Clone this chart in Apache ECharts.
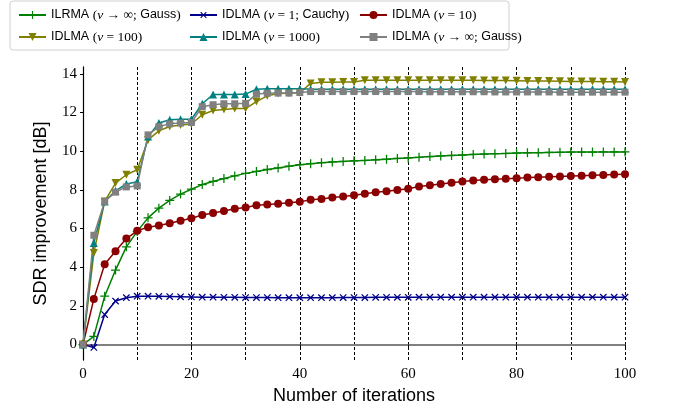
<!DOCTYPE html>
<html><head><meta charset="utf-8">
<script src="https://cdn.jsdelivr.net/npm/echarts@6/dist/echarts.min.js"></script>
<style>html,body{margin:0;padding:0;background:#fff}#c{width:685px;height:410px}</style>
</head><body><div id="c"></div>
<script>
const iterations = [0,2,4,6,8,10,12,14,16,18,20,22,24,26,28,30,32,34,36,38,40,42,44,46,48,50,52,54,56,58,60,62,64,66,68,70,72,74,76,78,80,82,84,86,88,90,92,94,96,98,100];
const ilrma = [0,0.42,2.5,3.85,5.05,5.85,6.55,7.05,7.45,7.78,8.03,8.27,8.43,8.58,8.72,8.85,8.95,9.05,9.13,9.22,9.3,9.35,9.4,9.44,9.47,9.5,9.52,9.55,9.58,9.62,9.65,9.68,9.72,9.75,9.78,9.8,9.83,9.85,9.87,9.88,9.9,9.91,9.92,9.93,9.94,9.95,9.95,9.95,9.96,9.96,9.96];
const cauchy = [0,-0.15,1.55,2.25,2.42,2.5,2.5,2.49,2.48,2.47,2.46,2.45,2.45,2.44,2.44,2.43,2.43,2.43,2.42,2.42,2.42,2.42,2.42,2.42,2.43,2.43,2.43,2.44,2.44,2.44,2.44,2.45,2.45,2.45,2.45,2.45,2.45,2.45,2.45,2.45,2.45,2.45,2.45,2.45,2.45,2.45,2.45,2.45,2.45,2.45,2.45];
const nu10 = [0,2.36,4.15,4.82,5.48,5.88,6.07,6.16,6.27,6.4,6.53,6.7,6.8,6.91,7.02,7.08,7.2,7.24,7.28,7.33,7.38,7.48,7.53,7.6,7.66,7.72,7.8,7.87,7.92,7.99,8.05,8.17,8.23,8.3,8.37,8.43,8.48,8.52,8.55,8.57,8.6,8.63,8.65,8.67,8.69,8.71,8.73,8.75,8.77,8.79,8.8];
const nu100 = [0,4.73,7.4,8.35,8.78,9.04,10.58,11.05,11.27,11.35,11.4,11.88,12.1,12.15,12.2,12.2,12.56,12.86,12.98,12.99,13.02,13.5,13.56,13.56,13.57,13.58,13.66,13.66,13.66,13.66,13.66,13.66,13.66,13.66,13.66,13.66,13.66,13.65,13.65,13.65,13.64,13.63,13.62,13.62,13.61,13.6,13.6,13.6,13.59,13.59,13.58];
const nu1000 = [0,5.25,7.4,7.95,8.3,8.42,10.75,11.45,11.62,11.65,11.65,12.45,12.93,12.93,12.93,12.95,13.2,13.22,13.22,13.22,13.22,13.2,13.2,13.2,13.2,13.2,13.2,13.2,13.2,13.2,13.2,13.2,13.2,13.2,13.2,13.2,13.2,13.2,13.2,13.2,13.2,13.2,13.2,13.2,13.2,13.2,13.2,13.2,13.2,13.2,13.2];
const gauss = [0,5.65,7.4,7.88,8.15,8.2,10.84,11.27,11.41,11.45,11.48,12.3,12.4,12.45,12.45,12.47,12.95,12.99,13.0,13.0,13.03,13.08,13.08,13.08,13.08,13.08,13.08,13.08,13.08,13.08,13.08,13.08,13.07,13.07,13.07,13.07,13.07,13.07,13.06,13.06,13.06,13.06,13.06,13.06,13.05,13.05,13.05,13.05,13.05,13.05,13.05];
const xTicks = [0,20,40,60,80,100];
const yTicks = [0,2,4,6,8,10,12,14];
const names = ['ILRMA (ν → ∞; Gauss)','IDLMA (ν = 1; Cauchy)','IDLMA (ν = 10)','IDLMA (ν = 100)','IDLMA (ν = 1000)','IDLMA (ν → ∞; Gauss)'];
const richNames = {
  'ILRMA (ν → ∞; Gauss)': '{s|ILRMA }{m|(}{i|ν}{m| → ∞; }{s|Gauss}{m|)}',
  'IDLMA (ν = 1; Cauchy)': '{s|IDLMA }{m|(}{i|ν}{m| = 1; }{s|Cauchy}{m|)}',
  'IDLMA (ν = 10)': '{s|IDLMA }{m|(}{i|ν}{m| = 10)}',
  'IDLMA (ν = 100)': '{s|IDLMA }{m|(}{i|ν}{m| = 100)}',
  'IDLMA (ν = 1000)': '{s|IDLMA }{m|(}{i|ν}{m| = 1000)}',
  'IDLMA (ν → ∞; Gauss)': '{s|IDLMA }{m|(}{i|ν}{m| → ∞; }{s|Gauss}{m|)}'
};
const SANS = 'Liberation Sans';
const SERIF = 'Liberation Serif';
const plus = 'path://M4.3,0H5.7V4.3H10V5.7H5.7V10H4.3V5.7H0V4.3H4.3Z';
const pair = arr => iterations.map((x,i)=>[x,arr[i]]);
function mk(name, data, color, symbol, size, rot){
  return {name, type:'line', data: pair(data), xAxisIndex:0, yAxisIndex:0,
    symbol, symbolSize:size, symbolRotate:rot||0, showSymbol:true,
    lineStyle:{color, width:1.5}, itemStyle:{color}, animation:false};
}
const legRich = {
  s:{fontFamily:SANS, fontSize:12.5, color:'#000'},
  m:{fontFamily:SERIF, fontSize:13.5, color:'#000'},
  i:{fontFamily:SERIF, fontSize:13.5, fontStyle:'italic', color:'#000'}
};
function leg(left, data){
  return {orient:'vertical', left, top:3, itemWidth:27, itemHeight:10, itemGap:8, itemTextGap:6,
    data, formatter: n => richNames[n], textStyle:{rich:legRich, padding:[0,0,0,0]}, selectedMode:false};
}
const chart = echarts.init(document.getElementById('c'), null, {renderer:'canvas'});
chart.setOption({
  animation:false,
  backgroundColor:'#fff',
  grid:{left:83, right:60, top:67, bottom:50},
  graphic:[{type:'rect', shape:{x:10, y:1, width:499, height:49, r:3}, style:{fill:'none', stroke:'#d0d0d0', lineWidth:1}, z:-1}],
  legend:[leg(13,[names[0],names[3]]), leg(184,[names[1],names[4]]), leg(354,[names[2],names[5]])],
  xAxis:[
    {type:'value', min:0, max:100, interval:20, position:'bottom',
     name:'Number of iterations', nameLocation:'middle', nameGap:26,
     nameTextStyle:{fontFamily:SANS, fontSize:18, color:'#000'},
     axisLine:{show:true, lineStyle:{color:'#808080', width:2}},
     axisTick:{show:true, length:4, lineStyle:{color:'#000'}},
     axisLabel:{fontFamily:SERIF, fontSize:15, color:'#000', margin:7},
     splitLine:{show:false}},
    {type:'value', min:0, max:100, interval:10, position:'top',
     axisLine:{show:true, lineStyle:{color:'#808080', width:2}},
     axisTick:{show:false}, axisLabel:{show:false},
     splitLine:{show:true, lineStyle:{color:'#000', type:[3,2], width:1}}}
  ],
  yAxis:[
    {type:'value', min:-0.8, max:14.35, position:'left',
     name:'SDR improvement [dB]', nameLocation:'middle', nameGap:33,
     nameTextStyle:{fontFamily:SANS, fontSize:18, color:'#000'},
     axisLine:{show:true, lineStyle:{color:'#000', width:1, type:[3,2]}},
     axisTick:{show:true, length:3, customValues:yTicks, lineStyle:{color:'#000'}},
     axisLabel:{fontFamily:SERIF, fontSize:15, color:'#000', margin:6, customValues:yTicks},
     splitLine:{show:false}},
    {type:'value', min:-0.8, max:14.35, position:'right',
     axisLine:{show:true, lineStyle:{color:'#000', width:1.2}},
     axisTick:{show:false}, axisLabel:{show:false}, splitLine:{show:false}}
  ],
  series:[
    mk(names[0], ilrma, '#008000', plus, 9, 0),
    mk(names[1], cauchy, '#00008b', plus, 9, 45),
    mk(names[2], nu10, '#8b0000', 'circle', 8, 0),
    mk(names[3], nu100, '#808000', 'triangle', 8, 180),
    mk(names[4], nu1000, '#008080', 'triangle', 8, 0),
    mk(names[5], gauss, '#808080', 'rect', 7, 0)
  ]
});
</script></body></html>
